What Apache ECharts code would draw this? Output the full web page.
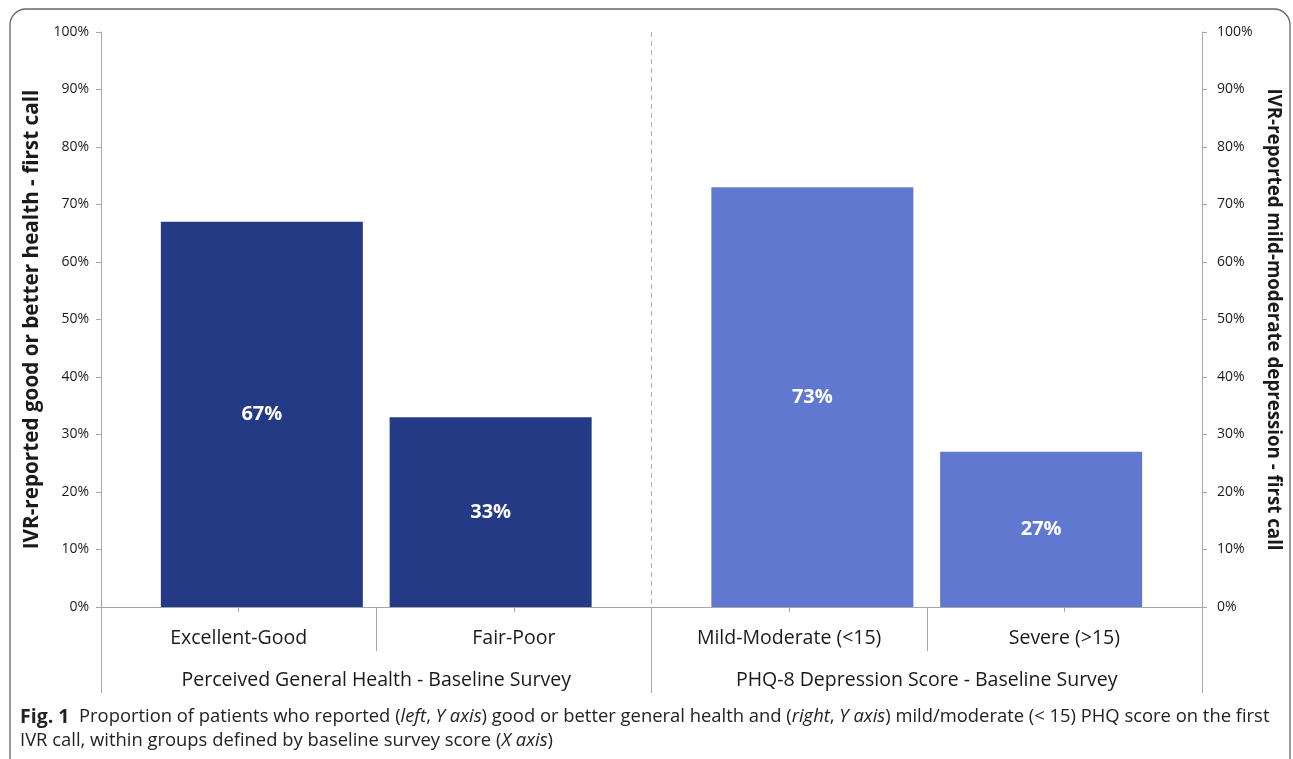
<!DOCTYPE html>
<html>
<head>
<meta charset="utf-8">
<script src="https://cdn.jsdelivr.net/npm/echarts@6/dist/echarts.min.js"></script>
<style>
  html, body { margin: 0; padding: 0; background: #fff; }
  #chart { width: 1293px; height: 759px; }
</style>
</head>
<body>
<div id="chart"></div>
<script>
// Categories along the X axis and the group each belongs to
const categories = ['Excellent-Good', 'Fair-Poor', 'Mild-Moderate (<15)', 'Severe (>15)'];
const groups = ['Perceived General Health - Baseline Survey', 'PHQ-8 Depression Score - Baseline Survey'];
const categoryGroup = [0, 0, 1, 1];
// Percentage reported on the first IVR call
const values = [67, 33, 73, 27];
// Y axis ticks
const yTicks = [0, 10, 20, 30, 40, 50, 60, 70, 80, 90, 100];
const leftAxisTitle = 'IVR-reported good or better health - first call';
const rightAxisTitle = 'IVR-reported mild-moderate depression - first call';

const groupColors = ['#253a84', '#6178d0'];
const axisGray = '#a6a6a6';
const textColor = '#1a1a1a';
const chartFont = '"Open Sans", sans-serif';
const captionFont = '"Open Sans", sans-serif';

// Within each category the bar sits in one of two slots (Excel-style clustering)
function slotData(slot) {
  return values.map((v, i) => {
    if (i % 2 !== slot) return '-';
    return { value: v, itemStyle: { color: groupColors[categoryGroup[i]] } };
  });
}

const barLabel = {
  show: true, position: 'inside', color: '#fff', fontWeight: 'bold',
  fontSize: 20, fontFamily: chartFont, formatter: '{c}%'
};

const yAxisBase = {
  type: 'value', min: yTicks[0], max: yTicks[yTicks.length - 1],
  interval: yTicks[1] - yTicks[0],
  axisLine: { show: true, lineStyle: { color: axisGray, width: 1 } },
  axisTick: { show: true, length: 5, lineStyle: { color: axisGray } },
  splitLine: { show: false },
  axisLabel: { formatter: '{value}%', color: textColor, fontSize: 14, fontFamily: chartFont, margin: 12 },
  nameLocation: 'middle'
};

const captionRich = {
  b: { fontSize: 19.5, fontWeight: 'bold', color: '#222', fontFamily: captionFont, lineHeight: 24 },
  n: { fontSize: 18.4, fontWeight: 'normal', color: '#222', fontFamily: captionFont, lineHeight: 24 },
  i: { fontSize: 18.4, fontWeight: 'normal', fontStyle: 'italic', color: '#222', fontFamily: captionFont, lineHeight: 24 }
};

const chart = echarts.init(document.getElementById('chart'), null, { renderer: 'canvas' });
chart.setOption({
  animation: false,
  backgroundColor: '#fff',
  textStyle: { fontFamily: chartFont },
  grid: { left: 101, right: 91, top: 32, bottom: 152, containLabel: false },
  title: {
    left: 20, top: 705, padding: 0,
    text: '{b|Fig. 1}{n|  Proportion of patients who reported (}{i|left}{n|, }{i|Y axis}{n|) good or better general health and (}{i|right}{n|, }{i|Y axis}{n|) mild/moderate (< 15) PHQ score on the first}\n' +
          '{n|IVR call, within groups defined by baseline survey score (}{i|X axis}{n|)}',
    textStyle: { fontWeight: 'normal', rich: captionRich }
  },
  graphic: [{
    type: 'rect', silent: true, z: -1,
    shape: { x: 10, y: 9, width: 1280, height: 770, r: 16 },
    style: { fill: 'none', stroke: '#666', lineWidth: 1.3 }
  }],
  xAxis: [
    {
      type: 'category', data: categories, position: 'bottom',
      axisLine: { show: true, lineStyle: { color: axisGray } },
      axisTick: { show: true, alignWithLabel: true, length: 5, lineStyle: { color: axisGray } },
      axisLabel: { margin: 21, fontSize: 19.5, color: textColor, fontFamily: chartFont },
      splitLine: { show: false }
    },
    {
      // category boundaries within each group
      type: 'category', data: categories, position: 'bottom',
      axisLine: { show: false },
      axisTick: { show: true, length: 44, lineStyle: { color: axisGray } },
      axisLabel: { show: false },
      splitLine: { show: false }
    },
    {
      // group level of the axis with the dashed divider between groups
      type: 'category', data: groups, position: 'bottom',
      axisLine: { show: false },
      axisTick: { show: true, length: 86, lineStyle: { color: axisGray } },
      axisLabel: { margin: 63, fontSize: 19.5, color: textColor, fontFamily: chartFont },
      splitLine: {
        show: true, interval: 0, showMinLine: false, showMaxLine: false,
        lineStyle: { color: '#b0b0b0', type: [5, 4], width: 1 }
      }
    }
  ],
  yAxis: [
    Object.assign({}, yAxisBase, {
      position: 'left', name: leftAxisTitle, nameGap: 55,
      nameTextStyle: { fontSize: 20.7, fontWeight: 'bold', color: textColor, fontFamily: chartFont }
    }),
    Object.assign({}, yAxisBase, {
      position: 'right', name: rightAxisTitle, nameGap: 59, nameRotate: -90,
      nameTextStyle: { fontSize: 18.7, fontWeight: 'bold', color: textColor, fontFamily: chartFont },
      axisLabel: Object.assign({}, yAxisBase.axisLabel, { margin: 15 })
    })
  ],
  series: [
    { type: 'bar', xAxisIndex: 0, yAxisIndex: 0, data: slotData(1), barWidth: 202, barGap: '-77%', label: barLabel },
    { type: 'bar', xAxisIndex: 0, yAxisIndex: 0, data: slotData(0), barWidth: 202, barGap: '-77%', label: barLabel }
  ]
});
</script>
</body>
</html>
